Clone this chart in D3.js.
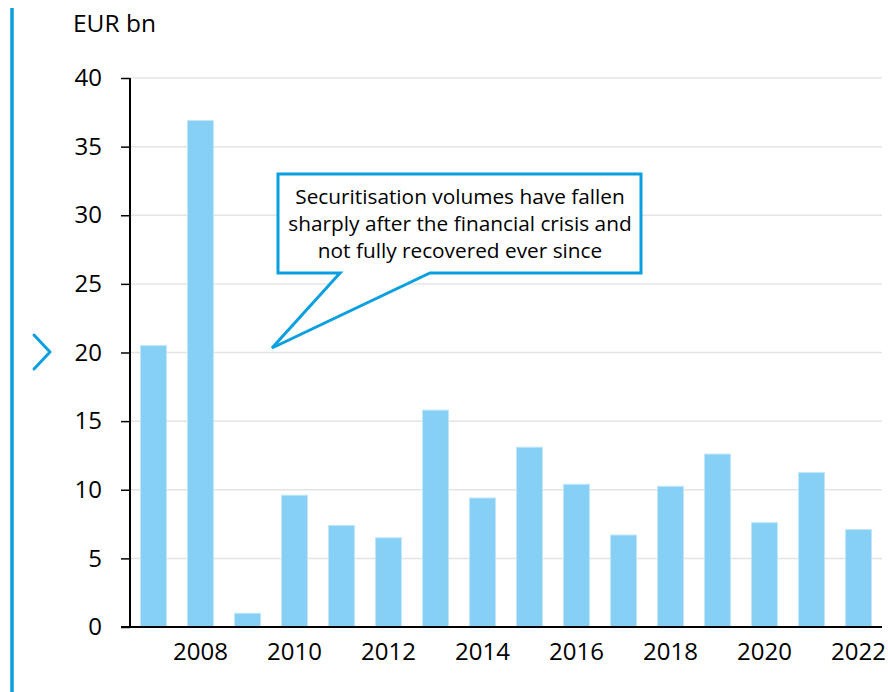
<!DOCTYPE html>
<html><head><meta charset="utf-8">
<script src="https://cdn.jsdelivr.net/npm/d3@7"></script>
<style>body{margin:0;background:#fff}svg{display:block;font-family:"Open Sans",sans-serif}</style>
</head><body><svg id="c" width="888" height="692"></svg>
<script>
const years = [2007,2008,2009,2010,2011,2012,2013,2014,2015,2016,2017,2018,2019,2020,2021,2022];
const volumes = [20.5,36.9,1.0,9.6,7.4,6.5,15.8,9.4,13.1,10.4,6.7,10.25,12.6,7.6,11.25,7.1];
const yTicks = [0,5,10,15,20,25,30,35,40];
const xTickYears = [2008,2010,2012,2014,2016,2018,2020,2022];
const unitLabel = "EUR bn";
const calloutLines = ["Securitisation volumes have fallen","sharply after the financial crisis and","not fully recovered ever since"];

const svg = d3.select("#c");
const blue = "#0a9fe0";
const x = d3.scaleBand().domain(years).range([130,882]).paddingInner(0.45).paddingOuter(0.225);
const y = d3.scaleLinear().domain([0,40]).range([627,78]);

// left decoration
svg.append("line").attr("x1",12).attr("x2",12).attr("y1",8).attr("y2",692).attr("stroke",blue).attr("stroke-width",3.5);
svg.append("path").attr("d","M34,335L50,352L34,369").attr("fill","none").attr("stroke",blue).attr("stroke-width",3).attr("stroke-linecap","round").attr("stroke-linejoin","round");

// gridlines
svg.append("g").selectAll("line").data(yTicks.filter(d=>d>0)).join("line")
  .attr("x1",130).attr("x2",882).attr("y1",d=>y(d)).attr("y2",d=>y(d))
  .attr("stroke","#e4e4e4").attr("stroke-width",1.5);

// bars
svg.append("g").selectAll("rect").data(years).join("rect")
  .attr("x",d=>x(d)).attr("width",x.bandwidth())
  .attr("y",(d,i)=>y(volumes[i])).attr("height",(d,i)=>y(0)-y(volumes[i]))
  .attr("fill","#86cff5").attr("stroke","#bfe6fa").attr("stroke-width",1);

// y axis
const ya = svg.append("g").attr("transform","translate(130,0)")
  .call(d3.axisLeft(y).tickValues(yTicks).tickSize(9).tickPadding(19).tickFormat(d3.format("d")));
ya.select(".domain").attr("stroke","#000").attr("stroke-width",2).attr("d","M0,78V627");
ya.selectAll(".tick line").attr("stroke","#000").attr("stroke-width",1.5);
ya.selectAll("text").attr("font-size",24).attr("fill","#000").attr("font-family","'Open Sans',sans-serif");

// x axis
const xa = svg.append("g").attr("transform","translate(0,627)")
  .call(d3.axisBottom(x).tickValues(xTickYears).tickSize(0).tickPadding(16));
xa.select(".domain").attr("stroke","#000").attr("stroke-width",2).attr("d","M121,0H882");
xa.selectAll("text").attr("font-size",24).attr("fill","#000").attr("font-family","'Open Sans',sans-serif");

// unit label
svg.append("text").attr("x",73).attr("y",32).attr("font-size",24.5).attr("fill","#000").text(unitLabel);

// callout
svg.append("path")
  .attr("d","M278,174H641V273H430L272,348L340,273H278Z")
  .attr("fill","#fff").attr("stroke",blue).attr("stroke-width",3).attr("stroke-linejoin","miter");
svg.append("g").selectAll("text").data(calloutLines).join("text")
  .attr("x",460).attr("y",(d,i)=>204+i*27).attr("text-anchor","middle")
  .attr("font-size",20.8).attr("fill","#000").text(d=>d);
</script></body></html>
